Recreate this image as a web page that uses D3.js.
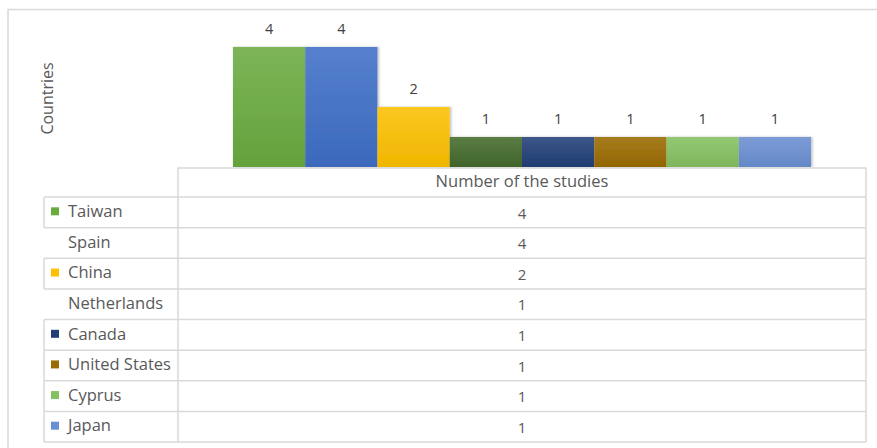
<!DOCTYPE html>
<html>
<head>
<meta charset="utf-8">
<script src="https://cdn.jsdelivr.net/npm/d3@7"></script>
<style>
  html, body { margin: 0; padding: 0; background: #fff; }
  svg { display: block; font-family: "Open Sans", "Noto Sans", sans-serif; }
</style>
</head>
<body>
<svg id="chart" width="877" height="448"></svg>
<script>
// ---- data ----
const countries = ["Taiwan", "Spain", "China", "Netherlands", "Canada", "United States", "Cyprus", "Japan"];
const studies = [4, 4, 2, 1, 1, 1, 1, 1];
const colors = ["#6aab40", "#3f6fc6", "#fcc000", "#436a2b", "#223f78", "#9a6b00", "#85c061", "#6a8fd2"];
const legendKeyShown = [true, false, true, false, true, true, true, true];
const categoryLabel = "Number of the studies";
const axisTitle = "Countries";
const yTicks = [0, 1, 2, 3, 4, 5];

const svg = d3.select("#chart");
const grid = "#d9d9d9";
const textCol = "#595959";

// outer chart border
svg.append("path")
  .attr("d", "M8,448 V9.5 H877")
  .attr("fill", "none").attr("stroke", grid).attr("stroke-width", 1.5);

// scales
const x = d3.scaleBand().domain(countries).range([178, 866]).paddingInner(0).paddingOuter(0.76);
const y = d3.scaleLinear().domain([0, d3.max(yTicks)]).range([167, 17]);

// gradients
const defs = svg.append("defs");
countries.forEach((c, i) => {
  const g = defs.append("linearGradient").attr("id", "g" + i)
    .attr("x1", 0).attr("y1", 0).attr("x2", 0).attr("y2", 1);
  const base = d3.color(colors[i]);
  g.append("stop").attr("offset", "0%").attr("stop-color", d3.interpolateRgb(base, "#fff")(0.12));
  g.append("stop").attr("offset", "100%").attr("stop-color", base.darker(0.15));
});
const f = defs.append("filter").attr("id", "sh").attr("x", "-10%").attr("y", "-10%").attr("width", "130%").attr("height", "130%");
f.append("feDropShadow").attr("dx", 1.5).attr("dy", 0).attr("stdDeviation", 1.2).attr("flood-color", "#000").attr("flood-opacity", 0.25);

// bars
svg.append("g").selectAll("rect").data(countries).join("rect")
  .attr("x", d => x(d))
  .attr("y", (d, i) => y(studies[i]))
  .attr("width", x.bandwidth())
  .attr("height", (d, i) => y(0) - y(studies[i]))
  .attr("fill", (d, i) => "url(#g" + i + ")")
  .attr("filter", "url(#sh)");

// data labels
svg.append("g").selectAll("text").data(countries).join("text")
  .attr("x", d => x(d) + x.bandwidth() / 2)
  .attr("y", (d, i) => y(studies[i]) - 13.5)
  .attr("text-anchor", "middle")
  .attr("font-size", 14.5)
  .attr("fill", "#404040")
  .text((d, i) => studies[i]);

// axis title
svg.append("text")
  .attr("transform", "translate(53,98.5) rotate(-90)")
  .attr("text-anchor", "middle")
  .attr("font-size", 16)
  .attr("fill", textCol)
  .text(axisTitle);

// data table
const tLeft = 44, tSplit = 178, tRight = 866, tTop = 168, hdrBottom = 197, tBottom = 442;
const rowH = (tBottom - hdrBottom) / countries.length;
const rowY = i => hdrBottom + i * rowH;
const tg = svg.append("g").attr("fill", "none").attr("stroke", grid).attr("stroke-width", 1.5);

// header box
tg.append("path").attr("d", `M${tSplit},${tBottom} V${tTop} H${tRight} V${tBottom}`);
// row lines
countries.forEach((c, i) => {
  tg.append("line").attr("x1", tLeft).attr("x2", tRight).attr("y1", rowY(i)).attr("y2", rowY(i));
  if (legendKeyShown[i]) {
    tg.append("line").attr("x1", tLeft).attr("x2", tLeft).attr("y1", rowY(i)).attr("y2", rowY(i + 1));
  }
});
tg.append("line").attr("x1", tLeft).attr("x2", tRight).attr("y1", tBottom).attr("y2", tBottom);

const colCenter = (tSplit + tRight) / 2;
svg.append("text")
  .attr("x", colCenter).attr("y", 187)
  .attr("text-anchor", "middle").attr("font-size", 16.5).attr("fill", textCol)
  .text(categoryLabel);

const rows = svg.append("g").selectAll("g").data(countries).join("g");
rows.filter((d, i) => legendKeyShown[i]).append("rect")
  .attr("x", 51).attr("y", d => rowY(countries.indexOf(d)) + rowH / 2 - 5)
  .attr("width", 8).attr("height", 8)
  .attr("fill", d => colors[countries.indexOf(d)]);
rows.append("text")
  .attr("x", 68).attr("y", (d, i) => rowY(i) + rowH / 2 + 4.8)
  .attr("font-size", 16.5).attr("fill", textCol)
  .text(d => d);
rows.append("text")
  .attr("x", colCenter).attr("y", (d, i) => rowY(i) + rowH / 2 + 6.3)
  .attr("text-anchor", "middle")
  .attr("font-size", 15).attr("fill", textCol)
  .text((d, i) => studies[i]);
</script>
</body>
</html>
